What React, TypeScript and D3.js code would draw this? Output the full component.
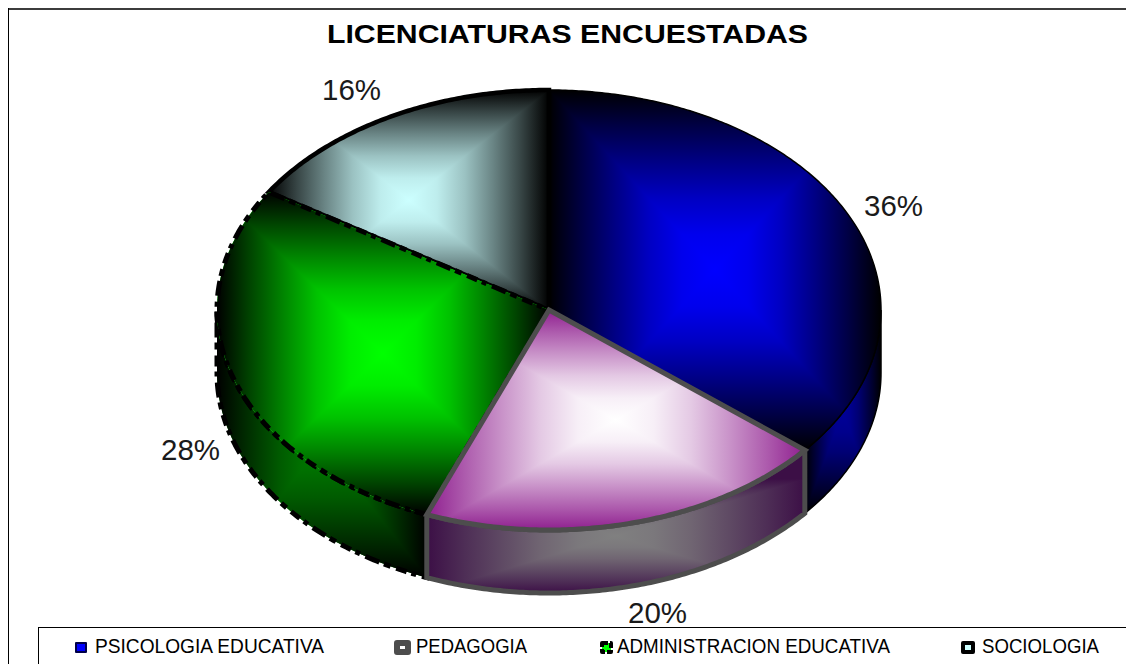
import React from "react";
import * as d3 from "d3";

const title = "LICENCIATURAS ENCUESTADAS";
const categories = ["PSICOLOGIA EDUCATIVA", "PEDAGOGIA", "ADMINISTRACION EDUCATIVA", "SOCIOLOGIA"];
const values = [36, 20, 28, 16];
const centerColors = ["#0000ff", "#ffffff", "#00ff00", "#ccffff"];
const edgeColors = ["#000000", "#8f1f8f", "#000000", "#000000"];
const wallCenterColors = ["#000098", "#808080", "#007800", "#000000"];
const wallEdgeColors = ["#000000", "#3c0f46", "#000000", "#000000"];
const strokeColors = ["#000000", "#4d4d4d", "#000000", "#000000"];
const strokeWidths = [1.5, 5, 5, 4.5];
const strokeDashes = ["", "", "11 5 5 6 15 5 7 6", ""];
const labelX = [893.5, 657.5, 190.5, 351.5];
const labelY = [216, 623, 460, 100];
const legendMarkerX = [81, 402.5, 606.5, 968];
const legendMarkerW = [10, 11, 9, 10];
const legendMarkerSW = [2, 6, 4, 4];
const legendTextX = [95, 416, 617, 982];
const legendTextW = [229, 111, 273, 117];

const W = 1126, H = 664;
const cx = 549, cy = 310, rx = 332, ry = 220, depth = 63;

const pie = d3.pie<number>().sort(null).startAngle(0).endAngle(2 * Math.PI);
const px = (a: number) => cx + rx * Math.sin(a);
const py = (a: number) => cy - ry * Math.cos(a);
const line = d3.line<[number, number]>();

function sample(a0: number, a1: number): [number, number][] {
  const n = Math.max(2, Math.ceil(Math.abs(a1 - a0) / 0.01));
  return d3.range(n + 1).map((i) => {
    const a = a0 + ((a1 - a0) * i) / n;
    return [px(a), py(a)] as [number, number];
  });
}
function topPath(a0: number, a1: number) {
  return line([[cx, cy], ...sample(a0, a1)]) + "Z";
}
function wallPath(a0: number, a1: number) {
  const top = sample(a0, a1);
  const bot = top.slice().reverse().map(([x, y]) => [x, y + depth] as [number, number]);
  return line([...top, ...bot]) + "Z";
}
function bbox(pts: [number, number][]) {
  const xs = pts.map((p) => p[0]);
  const ys = pts.map((p) => p[1]);
  return { x0: d3.min(xs)!, x1: d3.max(xs)!, y0: d3.min(ys)!, y1: d3.max(ys)! };
}

const stopOffsets = [0, 0.2, 0.4, 0.6, 0.8, 1];
const stopMix = [0, 0.27, 0.52, 0.76, 0.93, 1];

function RectGradient({ id, d, box, center, edge, stroke, sw, dash }: any) {
  const { x0, x1, y0, y1 } = box;
  const mx = (x0 + x1) / 2;
  const my = (y0 + y1) / 2;
  const far = (x: number, y: number) => [mx + (x - mx) * 4, my + (y - my) * 4];
  const mix = d3.interpolateRgb(edge, center);
  const sides = [
    { k: "t", g: [mx, y0, mx, my], pts: [far(x0, y0), far(x1, y0), [mx, my]] },
    { k: "b", g: [mx, y1, mx, my], pts: [far(x0, y1), far(x1, y1), [mx, my]] },
    { k: "l", g: [x0, my, mx, my], pts: [far(x0, y0), far(x0, y1), [mx, my]] },
    { k: "r", g: [x1, my, mx, my], pts: [far(x1, y0), far(x1, y1), [mx, my]] },
  ];
  return (
    <g>
      <defs>
        <clipPath id={`clip-${id}`}>
          <path d={d} />
        </clipPath>
        {sides.map((s) => (
          <linearGradient key={s.k} id={`${id}-${s.k}`} gradientUnits="userSpaceOnUse" x1={s.g[0]} y1={s.g[1]} x2={s.g[2]} y2={s.g[3]}>
            {stopOffsets.map((o, j) => (
              <stop key={o} offset={o} stopColor={mix(stopMix[j])} />
            ))}
          </linearGradient>
        ))}
      </defs>
      <g clipPath={`url(#clip-${id})`}>
        <rect x={x0 - 10} y={y0 - 200} width={x1 - x0 + 20} height={y1 - y0 + 300} fill={center} />
        {sides.map((s) => (
          <polygon key={s.k} points={s.pts.map((p) => p.join(",")).join(" ")} fill={`url(#${id}-${s.k})`} shapeRendering="crispEdges" />
        ))}
      </g>
      <path d={d} fill="none" stroke={stroke} strokeWidth={sw} strokeDasharray={dash} strokeLinejoin="miter" />
    </g>
  );
}

export default function App() {
  const arcs = pie(values);
  const wallOrder = [0, 2, 1];
  const topOrder = [0, 3, 2, 1];
  const font = "'Liberation Sans', Arial, sans-serif";
  return (
    <svg width={W} height={H} viewBox={`0 0 ${W} ${H}`} style={{ position: "absolute", left: 0, top: 0, display: "block", background: "#fff" }} fontFamily={font}>
      <rect x={0} y={0} width={W} height={H} fill="#fff" />
      <line x1={8} y1={9} x2={W} y2={9} stroke="#3c3c3c" strokeWidth={2} />
      <line x1={8.5} y1={8} x2={8.5} y2={H} stroke="#000" strokeWidth={1} />
      <text x={567.5} y={43} textAnchor="middle" fontSize={26.7} fontWeight="bold" textLength={481} lengthAdjust="spacingAndGlyphs" fill="#000">{title}</text>

      {wallOrder.map((i) => {
        const a0 = Math.max(arcs[i].startAngle, Math.PI / 2);
        const a1 = Math.min(arcs[i].endAngle, 1.5 * Math.PI);
        const d = wallPath(a0, a1);
        const b = bbox(sample(a0, a1));
        const box = { x0: b.x0, x1: b.x1, y0: i === 1 ? b.y1 + depth - 114 : cy, y1: b.y1 + depth };
        return (
          <RectGradient key={i} id={`wall${i}`} d={d} box={box} center={wallCenterColors[i]} edge={wallEdgeColors[i]} stroke={strokeColors[i]} sw={strokeWidths[i]} dash={strokeDashes[i]} />
        );
      })}

      {topOrder.map((i) => {
        const a = arcs[i];
        const d = topPath(a.startAngle, a.endAngle);
        const b = bbox([[cx, cy], ...sample(a.startAngle, a.endAngle)]);
        return (
          <RectGradient key={i} id={`top${i}`} d={d} box={b} center={centerColors[i]} edge={edgeColors[i]} stroke={strokeColors[i]} sw={strokeWidths[i]} dash={strokeDashes[i]} />
        );
      })}

      {values.map((v, i) => (
        <text key={i} x={labelX[i]} y={labelY[i]} textAnchor="middle" fontSize={29.5} fill="#1a1a1a">{`${v}%`}</text>
      ))}

      <rect x={38.5} y={627.5} width={W} height={60} fill="#fff" stroke="#000" strokeWidth={1} />
      {categories.map((c, i) => (
        <g key={c}>
          <rect x={legendMarkerX[i] - legendMarkerW[i] / 2} y={643} width={legendMarkerW[i]} height={9} fill={centerColors[i]} stroke={i === 0 ? "#00004a" : strokeColors[i]} strokeWidth={legendMarkerSW[i]} strokeLinejoin="round" strokeDasharray={strokeDashes[i] ? "6 2" : ""} />
          <text x={legendTextX[i]} y={653} fontSize={19.5} textLength={legendTextW[i]} lengthAdjust="spacingAndGlyphs" fill="#000">{c}</text>
        </g>
      ))}
    </svg>
  );
}
